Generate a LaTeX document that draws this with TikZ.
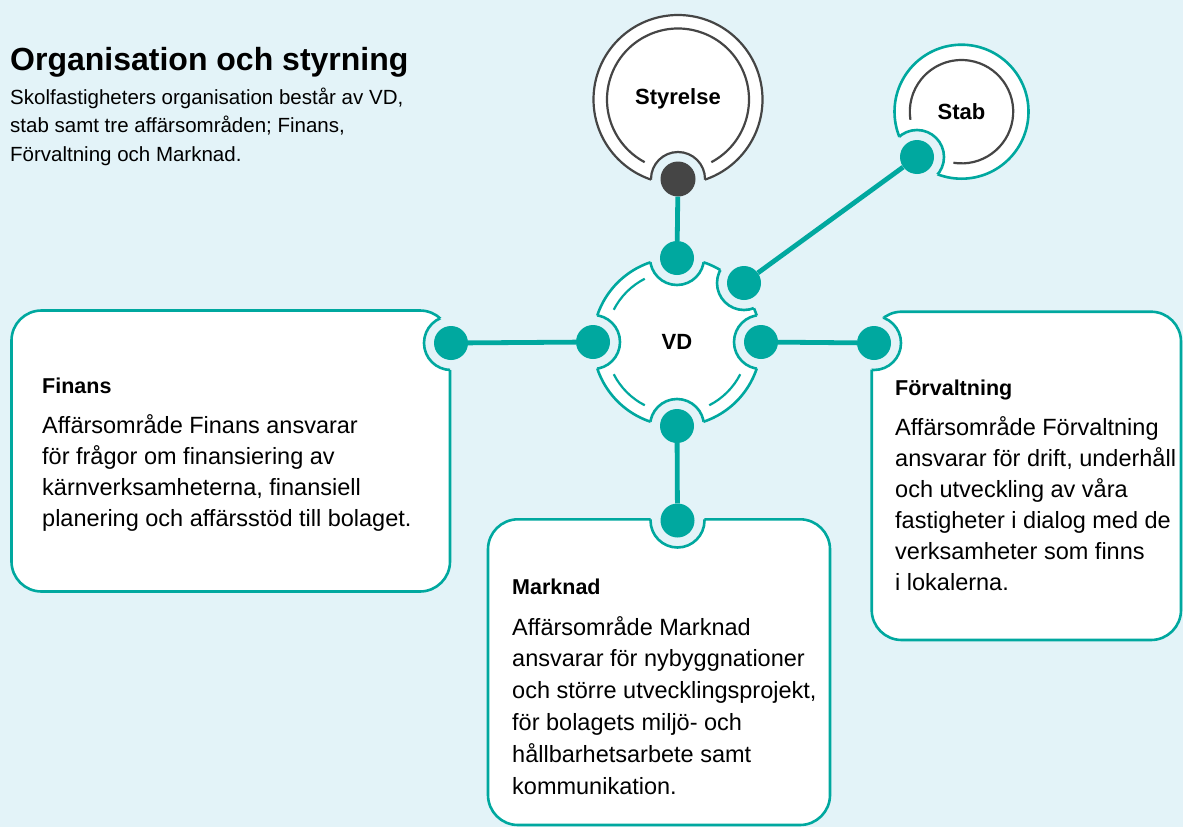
\documentclass[tikz,border=0pt]{standalone}
\usepackage{fontspec}
\setmainfont{Liberation Sans}
\definecolor{bgc}{HTML}{E3F3F8}
\definecolor{tl}{HTML}{00A89F}
\definecolor{dg}{HTML}{454545}
\tikzset{
  shapeline/.style={line width=2.6pt},
  conn/.style={draw=tl, line width=4.8pt},
  tdot/.style={circle, fill=tl, minimum size=34pt, inner sep=0pt},
  gdot/.style={circle, fill=dg, minimum size=35pt, inner sep=0pt},
  body/.style={inner sep=0pt, anchor=base west, font=\fontsize{23.5}{31}\selectfont},
  intro/.style={inner sep=0pt, anchor=base west, font=\fontsize{20.5}{28.5}\selectfont},
  head/.style={inner sep=0pt, anchor=base west, font=\bfseries\fontsize{21.5}{26}\selectfont},
  circlabel/.style={font=\bfseries\fontsize{22}{26}\selectfont},
}
\begin{document}
\begin{tikzpicture}[x=1pt,y=1pt]
\fill[bgc] (0,0) rectangle (1183,-827);
\useasboundingbox (0,0) rectangle (1183,-827);

% ---------- Finans box
\filldraw[fill=white, draw=tl, shapeline, rounded corners=30pt] (11.5,-310.5) rectangle (450,-591.5);
\fill[bgc] (451,-343) circle (27);
\begin{scope}
  \clip[rounded corners=30pt] (11.5,-310.5) rectangle (450,-591.5);
  \draw[tl, shapeline] (451,-343) circle (27);
\end{scope}

% ---------- Forvaltning box
\filldraw[fill=white, draw=tl, shapeline, rounded corners=30pt] (871.7,-311.7) rectangle (1181,-640);
\fill[bgc] (874,-343) circle (27);
\begin{scope}
  \clip[rounded corners=30pt] (871.7,-311.7) rectangle (1181,-640);
  \draw[tl, shapeline] (874,-343) circle (27);
\end{scope}

% ---------- Marknad box
\filldraw[fill=white, draw=tl, shapeline, rounded corners=30pt] (488,-519.3) rectangle (830,-825);
\fill[bgc] (677.5,-520.5) circle (27);
\begin{scope}
  \clip[rounded corners=30pt] (488,-519.3) rectangle (830,-825);
  \draw[tl, shapeline] (677.5,-520.5) circle (27);
\end{scope}

% ---------- VD
\filldraw[fill=white, draw=tl, shapeline] (677,-342) circle (84);
\fill[bgc] (677,-258) circle (27) (593,-342) circle (27) (761,-342) circle (27)
  (677,-426) circle (27) (744,-283) circle (27);
\begin{scope}
  \clip (677,-342) circle (84);
  \draw[tl, shapeline] (677,-258) circle (27) (593,-342) circle (27) (761,-342) circle (27)
    (677,-426) circle (27) (744,-283) circle (27);
\end{scope}
\draw[tl, line width=2.2pt] (677,-342) ++(117:71) arc[start angle=117, end angle=153, radius=71];
\draw[tl, line width=2.2pt] (677,-342) ++(207:71) arc[start angle=207, end angle=243, radius=71];
\draw[tl, line width=2.2pt] (677,-342) ++(297:71) arc[start angle=297, end angle=333, radius=71];

% ---------- Styrelse
\filldraw[fill=white, draw=dg, line width=2.2pt] (678,-99.5) circle (84.5);
\fill[bgc] (678,-179) circle (27);
\begin{scope}
  \clip (678,-99.5) circle (84.5);
  \draw[dg, line width=2.2pt] (678,-179) circle (27);
\end{scope}
\draw[dg, line width=2.2pt] (678,-99.5) ++(-62:71) arc[start angle=-62, end angle=242, radius=71];

% ---------- Stab
\filldraw[fill=white, draw=tl, shapeline] (961.5,-111.7) circle (67);
\fill[bgc] (917,-157) circle (27);
\begin{scope}
  \clip (961.5,-111.7) circle (67);
  \draw[tl, shapeline] (917,-157) circle (27);
\end{scope}
\draw[dg, line width=2.2pt] (961.5,-111.7) ++(261:51.7) arc[start angle=261, end angle=549, radius=51.7];

% ---------- dots
\node[gdot] (sty) at (678,-179) {};
\node[tdot] (stab) at (917,-157) {};
\node[tdot] (vdtop) at (677,-258) {};
\node[tdot] (vdstab) at (744,-283) {};
\node[tdot] (vdleft) at (593,-342) {};
\node[tdot] (vdright) at (761,-342) {};
\node[tdot] (vdbot) at (677,-426) {};
\node[tdot] (fin) at (451,-343) {};
\node[tdot] (forv) at (874,-343) {};
\node[tdot] (mark) at (677.5,-520.5) {};

% ---------- connectors
\draw[conn] (sty) -- (vdtop);
\draw[conn] (stab) -- (vdstab);
\draw[conn] (fin) -- (vdleft);
\draw[conn] (vdright) -- (forv);
\draw[conn] (vdbot) -- (mark);

% ---------- labels
\node[circlabel] (styl) at (678,-99) {Styrelse};
\node[circlabel] (stabl) at (961.5,-112) {Stab};
\node[circlabel] (vdl) at (677,-342) {VD};

\node[inner sep=0pt, anchor=base west, font=\bfseries\fontsize{32}{36}\selectfont] (title) at (10,-70.7) {Organisation och styrning};
\node[intro] (introtext) at (10,-104) {\parbox[t]{420pt}{Skolfastigheters organisation består av VD,\\ stab samt tre affärsområden; Finans,\\ Förvaltning och Marknad.}};

\node[head] (finh) at (42,-393) {Finans};
\node[body] (finb) at (42,-433) {\parbox[t]{420pt}{Affärsområde Finans ansvarar\\ för frågor om finansiering av\\ kärnverksamheterna, finansiell\\ planering och affärsstöd till bolaget.}};

\node[head] (forvh) at (895,-395) {Förvaltning};
\node[body] (forvb) at (895,-435) {\parbox[t]{300pt}{Affärsområde Förvaltning\\ ansvarar för drift, underhåll\\ och utveckling av våra\\ fastigheter i dialog med de\\ verksamheter som finns\\ i lokalerna.}};

\node[head] (markh) at (512,-594) {Marknad};
\node[body] (markb) at (512,-635) {\parbox[t]{320pt}{\baselineskip=31.8pt Affärsområde Marknad\\ ansvarar för nybyggnationer\\ och större utvecklingsprojekt,\\ för bolagets miljö- och\\ hållbarhetsarbete samt\\ kommunikation.}};
\end{tikzpicture}
\end{document}
